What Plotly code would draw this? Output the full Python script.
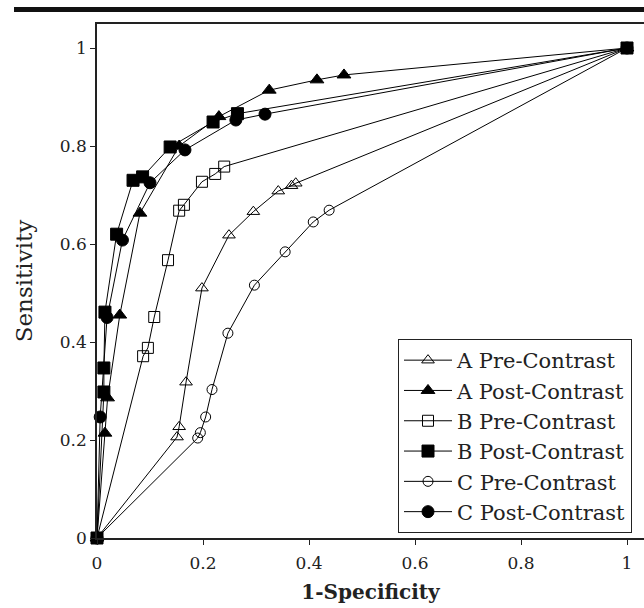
import plotly.graph_objects as go

# ---- data ----
A_pre_x = [0, 0.151, 0.155, 0.168, 0.198, 0.249, 0.295, 0.342, 0.367, 0.375, 1]
A_pre_y = [0, 0.206, 0.227, 0.318, 0.510, 0.618, 0.666, 0.708, 0.719, 0.724, 1]

A_post_x = [0, 0.015, 0.020, 0.043, 0.081, 0.155, 0.230, 0.325, 0.415, 0.466, 1]
A_post_y = [0, 0.214, 0.286, 0.455, 0.663, 0.800, 0.860, 0.914, 0.935, 0.945, 1]

B_pre_x = [0, 0.087, 0.096, 0.108, 0.134, 0.155, 0.164, 0.198, 0.223, 0.240, 1]
B_pre_y = [0, 0.371, 0.388, 0.451, 0.567, 0.668, 0.680, 0.727, 0.743, 0.758, 1]

B_post_x = [0, 0.013, 0.013, 0.015, 0.037, 0.068, 0.086, 0.138, 0.219, 0.265, 1]
B_post_y = [0, 0.298, 0.347, 0.461, 0.620, 0.730, 0.737, 0.798, 0.849, 0.866, 1]

C_pre_x = [0, 0.190, 0.195, 0.205, 0.217, 0.247, 0.297, 0.355, 0.408, 0.438, 1]
C_pre_y = [0, 0.204, 0.215, 0.247, 0.303, 0.418, 0.516, 0.584, 0.645, 0.669, 1]

C_post_x = [0, 0.006, 0.019, 0.048, 0.100, 0.166, 0.262, 0.317, 1]
C_post_y = [0, 0.247, 0.450, 0.608, 0.725, 0.792, 0.853, 0.865, 1]

series_names = ["A Pre-Contrast", "A Post-Contrast", "B Pre-Contrast",
                "B Post-Contrast", "C Pre-Contrast", "C Post-Contrast"]
tick_vals = [0, 0.2, 0.4, 0.6, 0.8, 1]
tick_text = ["0", "0.2", "0.4", "0.6", "0.8", "1"]

series = [
    (A_pre_x, A_pre_y, "triangle-up-open", 11),
    (A_post_x, A_post_y, "triangle-up", 12),
    (B_pre_x, B_pre_y, "square-open", 11),
    (B_post_x, B_post_y, "square", 12),
    (C_pre_x, C_pre_y, "circle-open", 10),
    (C_post_x, C_post_y, "circle", 12),
]

FONT = "DejaVu Serif"
fig = go.Figure()
for name, (xs, ys, sym, sz) in zip(series_names, series):
    fig.add_trace(go.Scatter(
        x=xs, y=ys, name=name, mode="lines+markers",
        line=dict(color="black", width=1),
        marker=dict(symbol=sym, size=sz, color="black",
                    line=dict(color="black", width=1)),
        cliponaxis=False,
    ))

axis_common = dict(
    showline=True, linecolor="#222", linewidth=1.5,
    ticks="outside", ticklen=5, tickwidth=1, tickcolor="#222",
    showgrid=False, zeroline=False, automargin=False,
    tickfont=dict(family=FONT, size=17, color="#222"),
    tickvals=tick_vals, ticktext=tick_text,
)

fig.update_layout(
    width=644, height=608,
    margin=dict(l=97, r=0, t=24, b=70),
    paper_bgcolor="white", plot_bgcolor="white",
    font=dict(family=FONT, color="#222"),
    xaxis=dict(range=[0, 547/530], mirror=True, ticklabelstandoff=4,
               title=dict(text="<b>1-Specificity</b>", standoff=13,
                          font=dict(family=FONT, size=20, color="#222")),
               **axis_common),
    yaxis=dict(range=[0, 514/490],
               title=dict(text="Sensitivity", standoff=21,
                          font=dict(family=FONT, size=23, color="#222")),
               **axis_common),
    legend=dict(x=(398-97)/547, y=(538-339)/514, xanchor="left", yanchor="top",
                bgcolor="white", bordercolor="#222", borderwidth=1,
                font=dict(family=FONT, size=21, color="#222"),
                itemwidth=48),
    showlegend=True,
    hovermode=False,
    shapes=[dict(type="rect", xref="paper", yref="paper",
                 x0=(14-97)/547, x1=1.05, y0=1+(24-12)/514, y1=1+(24-7)/514,
                 fillcolor="#111", line=dict(width=0))],
)

fig.write_html("out.html", config={"displayModeBar": False},
               post_script="document.body.style.margin='0';")
